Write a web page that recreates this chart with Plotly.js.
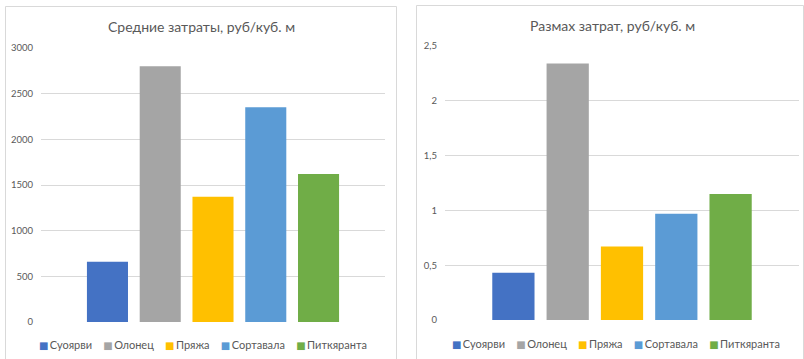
<!DOCTYPE html>
<html>
<head>
<meta charset="utf-8">
<script src="https://cdn.plot.ly/plotly-3.0.1.min.js"></script>
<style>
  html, body { margin: 0; padding: 0; background: #fff; }
  #chart { width: 804px; height: 359px; }
</style>
</head>
<body>
<div id="chart"></div>
<script>
// ---- data ----
const seriesNames = ['Суоярви', 'Олонец', 'Пряжа', 'Сортавала', 'Питкяранта'];
const avgCost = [660, 2800, 1370, 2350, 1620];      // Средние затраты, руб/куб. м
const costRange = [0.43, 2.34, 0.67, 0.97, 1.15];   // Размах затрат, руб/куб. м
const leftTitle = 'Средние затраты, руб/куб. м';
const rightTitle = 'Размах затрат, руб/куб. м';
const leftTicks = [0, 500, 1000, 1500, 2000, 2500, 3000];
const rightTicks = [0, 0.5, 1, 1.5, 2, 2.5];

// ---- style ----
const colors = ['#4472C4', '#A5A5A5', '#FFC000', '#5B9BD5', '#70AD47'];
const FONT = 'Lato, Carlito, "Open Sans", sans-serif';
const TXT = '#595959';
const GRID = '#D9D9D9';
const W = 804, H = 359;
const px = v => v / W;
const py = v => 1 - v / H;

const traces = [];
seriesNames.forEach((name, i) => {
  traces.push({
    type: 'bar', name: name, x: [0], y: [avgCost[i]],
    xaxis: 'x', yaxis: 'y',
    marker: { color: colors[i], line: { width: 0 } },
    showlegend: false, hoverinfo: 'skip'
  });
});
seriesNames.forEach((name, i) => {
  traces.push({
    type: 'bar', name: name, x: [0], y: [costRange[i]],
    xaxis: 'x2', yaxis: 'y2',
    marker: { color: colors[i], line: { width: 0 } },
    showlegend: false, hoverinfo: 'skip'
  });
});

function legendHtml() {
  return seriesNames.map((n, i) =>
    '<span style="color:' + colors[i] + ';font-family:DejaVu Sans;font-size:10px">■</span>\u2009' + n
  ).join('\u00a0\u00a0\u00a0\u00a0');
}

const yCommon = {
  showline: false, zeroline: false, showgrid: true, gridcolor: GRID, gridwidth: 1,
  ticks: '', tickfont: { family: FONT, size: 9.5, color: TXT }, ticklabelstandoff: 7,
  fixedrange: true
};
const xCommon = {
  range: [-0.5, 0.5], showgrid: false, zeroline: false, showline: false,
  showticklabels: false, ticks: '', fixedrange: true
};

const layout = {
  width: W, height: H,
  margin: { l: 0, r: 0, t: 0, b: 0, pad: 0 },
  paper_bgcolor: '#fff', plot_bgcolor: '#fff',
  separators: ', ',
  barmode: 'group', bargap: 0.233, bargroupgap: 0.222,
  showlegend: false,
  xaxis: Object.assign({}, xCommon, { domain: [px(41), px(385)], anchor: 'y' }),
  yaxis: Object.assign({}, yCommon, { domain: [py(322), py(48)], range: [0, 3000], tickvals: leftTicks, anchor: 'x' }),
  xaxis2: Object.assign({}, xCommon, { domain: [px(445), px(799)], anchor: 'y2' }),
  yaxis2: Object.assign({}, yCommon, { domain: [py(320), py(46)], range: [0, 2.5], tickvals: rightTicks, anchor: 'x2' }),
  shapes: [
    { type: 'rect', xref: 'paper', yref: 'paper', x0: px(5.5), x1: px(396.5), y0: py(370), y1: py(6.5),
      line: { color: GRID, width: 1 }, fillcolor: 'rgba(0,0,0,0)', layer: 'below' },
    { type: 'rect', xref: 'paper', yref: 'paper', x0: px(416.5), x1: px(803.5), y0: py(370), y1: py(5.5),
      line: { color: GRID, width: 1 }, fillcolor: 'rgba(0,0,0,0)', layer: 'below' }
  ],
  annotations: [
    { xref: 'paper', yref: 'paper', x: px(201), y: py(27), text: leftTitle, showarrow: false,
      xanchor: 'center', yanchor: 'middle', font: { family: FONT, size: 14, color: TXT } },
    { xref: 'paper', yref: 'paper', x: px(612), y: py(25), text: rightTitle, showarrow: false,
      xanchor: 'center', yanchor: 'middle', font: { family: FONT, size: 14, color: TXT } },
    { xref: 'paper', yref: 'paper', x: px(203), y: py(344), text: legendHtml(), showarrow: false,
      xanchor: 'center', yanchor: 'middle', font: { family: FONT, size: 11, color: TXT } },
    { xref: 'paper', yref: 'paper', x: px(616), y: py(343), text: legendHtml(), showarrow: false,
      xanchor: 'center', yanchor: 'middle', font: { family: FONT, size: 11, color: TXT } }
  ]
};

Plotly.newPlot('chart', traces, layout, { staticPlot: true, displayModeBar: false });
</script>
</body>
</html>
